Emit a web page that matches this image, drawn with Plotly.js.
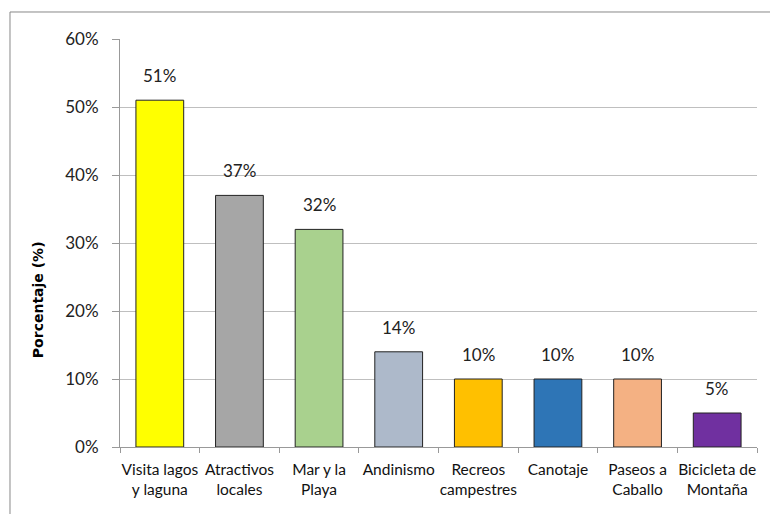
<!DOCTYPE html>
<html><head><meta charset="utf-8">
<script src="https://cdn.plot.ly/plotly-3.0.1.min.js"></script>
<style>html,body{margin:0;padding:0;background:#fff}#c{width:770px;height:514px}</style>
</head><body><div id="c"></div>
<script>
const categories = ["Visita lagos<br>y laguna","Atractivos<br>locales","Mar y la<br>Playa","Andinismo","Recreos<br>campestres","Canotaje","Paseos a<br>Caballo","Bicicleta de<br>Montaña"];
const values = [0.51,0.37,0.32,0.14,0.10,0.10,0.10,0.05];
const labels = ["51%","37%","32%","14%","10%","10%","10%","5%"];
const colors = ["#FFFF00","#A6A6A6","#A9D18E","#ADB9CA","#FFC000","#2E75B6","#F4B183","#7030A0"];
const yTickVals = [0,0.1,0.2,0.3,0.4,0.5,0.6];
const yTickText = ["0%","10%","20%","30%","40%","50%","60%"];
const yTitle = "Porcentaje (%)";

const font = "Lato, 'Open Sans', sans-serif";
const trace = {
  type: "bar", x: categories, y: values,
  marker: {color: colors, line: {color: "#222", width: 1}},
  hoverinfo: "none"
};
const annotations = categories.map((c,i)=>({
  x: c, y: values[i], text: labels[i], showarrow: false,
  yanchor: "bottom", yshift: 12, font: {family: font, size: 17, color: "#222"}
}));
annotations.push({
  xref: "paper", yref: "paper", x: -0.1287, y: 0.36, text: "<b>" + yTitle + "</b>",
  textangle: -90, showarrow: false, xanchor: "center", yanchor: "middle",
  font: {family: "'DejaVu Sans', sans-serif", size: 14, color: "#000"}
});
const layout = {
  width: 770, height: 514,
  margin: {l: 120, r: 13, t: 39, b: 67},
  paper_bgcolor: "#fff", plot_bgcolor: "#fff",
  bargap: 0.4, showlegend: false,
  xaxis: {
    type: "category", showgrid: false, showline: true, linecolor: "#999", linewidth: 1,
    ticks: "outside", tickson: "boundaries", ticklen: 5, tickcolor: "#999",
    ticklabelstandoff: 8, tickangle: 0,
    tickfont: {family: font, size: 15.5, color: "#111"}, fixedrange: true
  },
  yaxis: {
    range: [0, 0.6], tickvals: yTickVals, ticktext: yTickText,
    showgrid: true, gridcolor: "#BFBFBF", gridwidth: 1,
    showline: true, linecolor: "#999", linewidth: 1,
    ticks: "outside", ticklen: 7, tickcolor: "#999", ticklabelstandoff: 10,
    zeroline: false,
    tickfont: {family: font, size: 17, color: "#222"},
    fixedrange: true
  },
  annotations: annotations,
  shapes: [
    {type: "line", xref: "paper", yref: "paper", x0: -0.1727, x1: -0.1727, y0: -0.2, y1: 1.0662, line: {color: "#888", width: 1}},
    {type: "line", xref: "paper", yref: "paper", x0: -0.1727, x1: 1.05, y0: 1.0662, y1: 1.0662, line: {color: "#888", width: 1}}
  ]
};
Plotly.newPlot("c", [trace], layout, {displayModeBar: false, staticPlot: true});
</script></body></html>
